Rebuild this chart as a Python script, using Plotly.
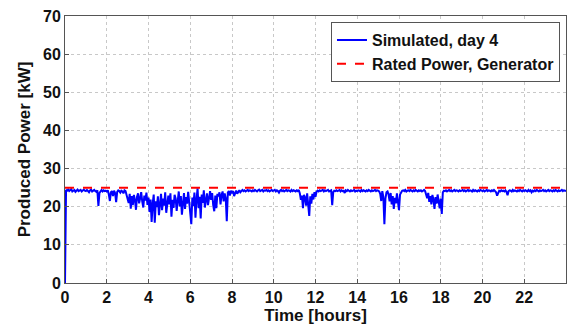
import numpy as np
import plotly.graph_objects as go

STEP_H = 0.05  # sampling interval of the simulated series, hours

# Simulated produced power, day 4 [kW], 20 samples per hour (row = one hour)
power_kw = [
    0.0, 24.4, 24.2, 24.5, 24.1, 24.3, 24.6, 24.0, 24.2, 24.4, 23.9, 24.3, 24.5, 24.1, 24.2, 24.4, 24.0, 24.3, 24.5, 24.2,
    24.1, 24.4, 24.2, 23.8, 24.3, 24.5, 24.0, 24.2, 24.4, 24.1, 23.9, 24.3, 20.2, 23.6, 24.2, 24.4, 24.0, 24.3, 24.1, 24.2,
    24.0, 24.3, 23.2, 21.5, 23.8, 24.1, 22.8, 24.2, 23.6, 21.2, 23.9, 24.3, 24.1, 23.7, 24.2, 24.0, 23.5, 24.3, 24.1, 23.2,
    22.5, 21.0, 23.4, 19.5, 22.8, 20.4, 23.1, 21.8, 19.2, 22.6, 23.5, 20.9, 22.2, 23.8, 21.4, 19.8, 22.9, 21.6, 23.7, 20.5,
    22.4, 18.6, 21.9, 16.0, 20.8, 23.2, 15.8, 21.4, 19.9, 22.7, 17.8, 21.2, 23.4, 19.1, 22.1, 20.3, 23.8, 18.4, 21.7, 22.9,
    20.6, 23.5, 17.4, 21.8, 19.7, 23.1, 22.2, 18.9, 21.5, 24.0, 20.1, 22.8, 17.9, 21.3, 23.6, 19.4, 22.5, 20.8, 23.9, 21.2,
    18.3, 15.4, 22.4, 20.2, 23.7, 17.1, 21.9, 24.8, 19.6, 22.6, 16.9, 23.2, 21.0, 24.3, 19.8, 22.1, 23.5, 20.4, 22.9, 24.1,
    21.8, 23.6, 20.4, 18.8, 22.9, 19.6, 23.4, 22.7, 23.8, 20.6, 23.1, 24.0, 21.4, 23.5, 22.2, 16.2, 23.7, 24.1, 22.9, 24.2,
    23.5, 24.1, 22.8, 23.9, 24.2, 23.4, 24.0, 24.3, 23.8, 24.2, 24.4, 24.1, 24.3, 24.0, 24.2, 24.4, 24.1, 24.3, 24.2, 24.0,
    24.3, 24.1, 24.4, 24.2, 24.0, 24.3, 24.5, 24.1, 24.2, 24.4, 24.0, 24.3, 24.2, 24.4, 24.1, 24.3, 24.0, 24.2, 24.4, 24.1,
    24.2, 24.4, 24.0, 24.3, 24.1, 23.7, 24.2, 24.4, 24.1, 24.3, 24.0, 24.2, 24.4, 24.1, 24.3, 24.2, 24.0, 24.4, 24.1, 24.3,
    24.2, 24.0, 24.3, 24.1, 24.4, 23.5, 21.8, 22.9, 19.6, 23.1, 22.4, 20.3, 23.5, 21.2, 17.6, 22.7, 20.8, 23.4, 21.9, 23.8,
    22.6, 23.9, 24.2, 24.0, 24.3, 24.1, 24.2, 24.4, 24.0, 24.3, 24.1, 24.2, 24.4, 24.0, 24.2, 24.3, 20.4, 23.8, 24.2, 24.1,
    24.3, 24.1, 24.2, 24.4, 24.0, 24.3, 24.1, 24.2, 23.6, 24.3, 24.1, 24.4, 24.2, 24.0, 24.3, 24.1, 24.2, 24.4, 24.0, 24.2,
    24.1, 24.3, 24.2, 24.0, 24.4, 24.1, 24.3, 24.2, 24.0, 24.3, 24.1, 24.4, 24.2, 24.0, 24.3, 24.1, 24.2, 24.4, 24.1, 24.3,
    24.2, 24.0, 23.4, 21.5, 24.1, 22.6, 15.4, 22.1, 23.8, 24.0, 23.2, 21.4, 23.6, 20.6, 22.8, 19.4, 22.3, 20.9, 23.5, 21.6,
    19.1, 23.2, 24.0, 24.2, 24.3, 24.1, 24.4, 24.0, 24.2, 24.3, 24.1, 24.4, 24.2, 24.0, 24.3, 24.1, 24.4, 24.2, 24.0, 24.3,
    24.1, 24.3, 24.0, 24.2, 24.4, 24.1, 23.4, 22.2, 23.6, 21.3, 22.8, 20.6, 23.1, 21.9, 19.4, 22.5, 20.8, 23.2, 21.4, 19.6,
    22.1, 18.1, 23.8, 24.2, 24.1, 24.3, 24.0, 24.2, 24.4, 24.1, 24.3, 24.0, 24.2, 24.4, 24.1, 24.3, 24.2, 24.0, 24.3, 24.1,
    24.2, 24.4, 24.1, 24.3, 24.0, 24.2, 24.4, 24.1, 24.3, 24.2, 24.0, 24.4, 24.1, 24.3, 24.2, 24.0, 24.3, 24.1, 24.4, 24.2,
    24.1, 24.3, 24.0, 24.2, 24.4, 24.1, 24.3, 24.2, 24.0, 24.3, 24.1, 24.4, 24.2, 23.8, 22.9, 23.9, 24.2, 24.0, 24.3, 24.1,
    24.2, 24.0, 24.3, 23.9, 23.0, 24.1, 24.3, 24.2, 24.0, 24.4, 24.1, 24.3, 24.2, 24.0, 24.3, 24.1, 24.4, 24.2, 24.0, 24.3,
    24.1, 24.3, 24.2, 24.0, 24.4, 24.1, 24.3, 23.8, 24.2, 24.0, 24.3, 24.1, 24.4, 24.2, 24.0, 24.3, 24.1, 24.2, 24.4, 24.1,
    24.3, 24.0, 24.2, 24.4, 24.1, 24.3, 24.2, 24.0, 24.3, 24.1, 24.4, 24.2, 24.0, 24.3, 24.1, 24.2, 24.4, 24.1, 24.3, 24.2,
    24.1,
]
time_h = np.arange(len(power_kw)) * STEP_H

# Rated generator power [kW]
rated_time_h = [0, 24]
rated_kw = [25, 25]

x_ticks = [0, 2, 4, 6, 8, 10, 12, 14, 16, 18, 20, 22]
y_ticks = [0, 10, 20, 30, 40, 50, 60, 70]

FONT = "Liberation Sans, Arial, sans-serif"
TICK_FONT = dict(family=FONT, size=16, color="#111111", weight="bold")
TITLE_FONT = dict(family=FONT, size=17, color="#111111", weight="bold")

fig = go.Figure()
fig.add_trace(go.Scatter(
    x=time_h, y=power_kw, mode="lines", name="Simulated, day 4",
    line=dict(color="#0000ff", width=2),
))
fig.add_trace(go.Scatter(
    x=rated_time_h, y=rated_kw, mode="lines", name="Rated Power, Generator",
    line=dict(color="#ff0000", width=2, dash="dash"),
))

axis_common = dict(
    showgrid=True, gridcolor="#c8c8c8", griddash="dot", gridwidth=1,
    showline=True, linecolor="#555555", linewidth=1, mirror=True,
    ticks="inside", ticklen=4, tickcolor="#555555",
    zeroline=False,
    tickfont=TICK_FONT,
)

fig.update_xaxes(
    range=[0, 24], tickvals=x_ticks,
    title=dict(text="Time [hours]", font=TITLE_FONT, standoff=3),
    **axis_common,
)
fig.update_yaxes(
    range=[0, 70], tickvals=y_ticks,
    title=dict(text="Produced Power [kW]", font=TITLE_FONT, standoff=8),
    **axis_common,
)

fig.update_layout(
    width=567, height=333,
    margin=dict(l=65, r=1, t=16, b=50),
    plot_bgcolor="white", paper_bgcolor="white",
    showlegend=True,
    legend=dict(
        x=0.988, y=0.977, xanchor="right", yanchor="top",
        bgcolor="white", bordercolor="#555555", borderwidth=1,
        font=dict(family=FONT, size=16, color="#111111", weight="bold"),
        tracegroupgap=0, itemwidth=30,
    ),
)

# Remove the browser's default body margin so the figure fills the window.
fig.write_html(
    "out.html",
    config={"displayModeBar": False},
    post_script="document.body.style.margin='0px';",
)
